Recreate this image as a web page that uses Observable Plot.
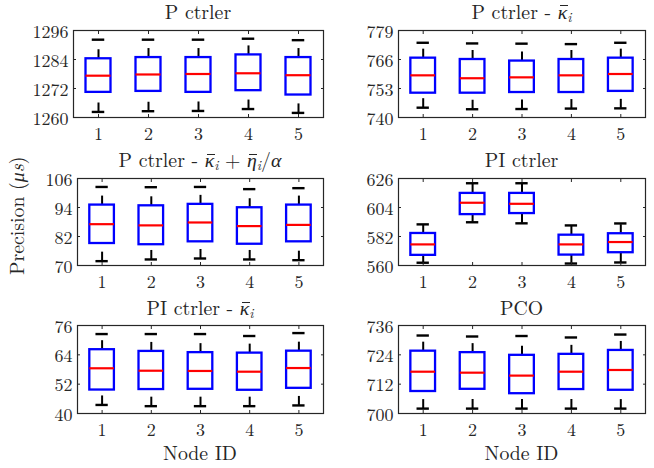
<!DOCTYPE html>
<html>
<head>
<meta charset="utf-8">
<script src="https://cdn.jsdelivr.net/npm/d3@7"></script>
<script src="https://cdn.jsdelivr.net/npm/@observablehq/plot@0.6"></script>
<style>
  body { margin: 0; background: #fff; }
  #fig { position: relative; width: 654px; height: 468px; overflow: hidden; background: #fff;
         font-family: "Latin Modern Roman", "Liberation Serif", serif; color: #262626; }
  #fig svg { position: absolute; overflow: visible; }
  .title, .xlab, .ylab { position: absolute; font-size: 19.8px; line-height: 16px; white-space: nowrap; }
  .gk { font-family: "Latin Modern Roman", "Liberation Serif", serif; font-style: italic; }
  .sub { font-size: 0.7em; vertical-align: -0.25em; line-height: 0; font-style: italic; }
  .bar { position: relative; display: inline-block; font-style: italic; font-family: "Liberation Serif", serif; }
  .ov { position: absolute; left: 22%; right: -6%; height: 0; border-top: 1.3px solid #262626; }
</style>
</head>
<body>
<div id="fig"></div>
<script>
// ---------- data ----------
const nodes = [1, 2, 3, 4, 5];

const titles = [
  "P ctrler",
  "P ctrler - <span class='bar'>κ</span><span class='sub'>i</span>",
  "P ctrler - <span class='bar'>κ</span><span class='sub'>i</span> + <span class='bar'>η</span><span class='sub'>i</span>/<i class='gk'>α</i>",
  "PI ctrler",
  "PI ctrler - <span class='bar'>κ</span><span class='sub'>i</span>",
  "PCO"
];

const yDomains = [[1260, 1296], [740, 779], [70, 106], [560, 626], [40, 76], [700, 736]];
const yTicks = [
  [1260, 1272, 1284, 1296],
  [740, 753, 766, 779],
  [70, 82, 94, 106],
  [560, 582, 604, 626],
  [40, 52, 64, 76],
  [700, 712, 724, 736]
];

// per panel, per node
const lowerWhisker = [
  [1262.3, 1262.6, 1262.7, 1263.5, 1261.9],
  [744.4, 743.7, 743.8, 744.0, 744.1],
  [71.8, 72.5, 72.9, 72.5, 72.2],
  [562.1, 592.8, 592.0, 561.5, 562.3],
  [43.5, 43.0, 43.0, 43.0, 43.3],
  [702.0, 702.0, 702.0, 702.0, 702.0]
];
const quartile1 = [
  [1270.4, 1270.8, 1270.4, 1271.1, 1269.3],
  [750.9, 750.9, 751.2, 751.2, 751.7],
  [79.1, 78.6, 79.8, 78.8, 79.8],
  [567.7, 598.6, 599.4, 567.9, 569.7],
  [49.6, 49.8, 49.9, 49.5, 50.3],
  [709.0, 709.9, 708.1, 709.8, 709.5]
];
const median = [
  [1277.3, 1277.8, 1278.0, 1278.3, 1277.5],
  [758.9, 757.6, 758.0, 758.9, 759.5],
  [87.1, 86.6, 87.8, 86.3, 86.8],
  [576.0, 607.6, 606.8, 576.0, 577.8],
  [58.5, 57.5, 57.4, 57.1, 58.6],
  [717.1, 716.7, 715.5, 717.1, 717.8]
];
const quartile3 = [
  [1284.3, 1284.8, 1284.8, 1285.9, 1284.8],
  [766.6, 766.0, 765.3, 766.0, 766.6],
  [95.0, 94.7, 95.3, 93.9, 95.0],
  [584.3, 614.7, 614.7, 583.0, 584.1],
  [66.1, 65.4, 64.9, 64.7, 65.5],
  [725.5, 724.9, 723.8, 724.2, 725.8]
];
const upperWhisker = [
  [1292.2, 1292.2, 1292.2, 1292.6, 1292.0],
  [773.5, 773.2, 773.1, 772.9, 773.5],
  [102.5, 102.4, 102.5, 101.6, 102.0],
  [591.2, 622.4, 622.4, 590.4, 591.9],
  [72.5, 72.5, 72.5, 71.7, 72.9],
  [731.9, 731.5, 731.7, 731.1, 732.3]
];

const xLabel = "Node ID";
const yLabelHTML = "Precision (<i>μs</i>)";

// ---------- layout (page pixels of each plot frame) ----------
const frames = [
  {x0: 73, x1: 323, y0: 30, y1: 117, tb: 18.5},
  {x0: 398, x1: 645, y0: 30, y1: 117, tb: 18.5},
  {x0: 77, x1: 323, y0: 178, y1: 265, tb: 166.7},
  {x0: 398, x1: 645, y0: 178, y1: 265, tb: 166.7},
  {x0: 77, x1: 323, y0: 325, y1: 413, tb: 315},
  {x0: 398, x1: 645, y0: 325, y1: 413, tb: 315}
];

const fig = document.getElementById("fig");
const mL = 60, mR = 8, mT = 6, mB = 34;
const ink = "#262626";
const fontStack = "'Latin Modern Roman', 'Liberation Serif', serif";

function baselineOffset(el) {
  const m = document.createElement("span");
  m.style.cssText = "display:inline-block;width:0;height:0;vertical-align:baseline";
  el.appendChild(m);
  const off = m.getBoundingClientRect().top - el.getBoundingClientRect().top;
  el.removeChild(m);
  return off;
}
function placeText(cls, html, cx, baseline) {
  const d = document.createElement("div");
  d.className = cls;
  d.innerHTML = html;
  fig.appendChild(d);
  const off = baselineOffset(d);
  const w = d.getBoundingClientRect().width;
  d.style.left = (cx - w / 2) + "px";
  d.style.top = (baseline - off) + "px";
  d.querySelectorAll(".bar").forEach(b => {
    const bo = baselineOffset(b);
    const fs = parseFloat(getComputedStyle(b).fontSize);
    const ov = document.createElement("span");
    ov.className = "ov";
    ov.style.top = (bo - 0.66 * fs) + "px";
    b.appendChild(ov);
  });
  return d;
}

frames.forEach((F, i) => {
  const data = nodes.map((n, j) => ({
    node: n,
    lo: lowerWhisker[i][j], q1: quartile1[i][j], med: median[i][j],
    q3: quartile3[i][j], hi: upperWhisker[i][j]
  }));
  const w = F.x1 - F.x0, h = F.y1 - F.y0;
  const capInset = (w / 10) / 4;
  const chart = Plot.plot({
    width: w + mL + mR,
    height: h + mT + mB,
    marginLeft: mL, marginRight: mR, marginTop: mT, marginBottom: mB,
    style: {fontFamily: fontStack, fontSize: "18px", color: ink, background: "transparent", overflow: "visible"},
    x: {type: "band", domain: nodes, paddingInner: 0.5, paddingOuter: 0.25, round: false},
    y: {domain: yDomains[i]},
    marks: [
      Plot.ruleX(data, {x: "node", y1: "q3", y2: "hi", stroke: "black", strokeWidth: 2, strokeDasharray: "9,10"}),
      Plot.ruleX(data, {x: "node", y1: "lo", y2: "q1", stroke: "black", strokeWidth: 2, strokeDasharray: "9,10"}),
      Plot.tickY(data, {x: "node", y: "hi", stroke: "black", strokeWidth: 2.4, insetLeft: capInset, insetRight: capInset}),
      Plot.tickY(data, {x: "node", y: "lo", stroke: "black", strokeWidth: 2.4, insetLeft: capInset, insetRight: capInset}),
      Plot.barY(data, {x: "node", y1: "q1", y2: "q3", fill: "none", stroke: "#0000ff", strokeWidth: 2.3}),
      Plot.tickY(data, {x: "node", y: "med", stroke: "#ff0000", strokeWidth: 2.2}),
      Plot.axisX({anchor: "bottom", tickSize: -3, tickPadding: 13, label: null, stroke: ink}),
      Plot.axisX({anchor: "top", tickSize: -3, tickFormat: () => "", label: null, stroke: ink}),
      Plot.axisY(yTicks[i], {anchor: "left", tickSize: -3, tickFormat: () => "", label: null, stroke: ink}),
      Plot.axisY(yTicks[i], {anchor: "left", tickSize: 0, tickPadding: 5, dy: 1.5, tickFormat: d3.format("d"), label: null}),
      Plot.axisY(yTicks[i], {anchor: "right", tickSize: -3, tickFormat: () => "", label: null, stroke: ink}),
      Plot.frame({stroke: ink, strokeWidth: 1.2})
    ]
  });
  chart.style.left = (F.x0 - mL) + "px";
  chart.style.top = (F.y0 - mT) + "px";
  fig.appendChild(chart);

  placeText("title", titles[i], (F.x0 + F.x1) / 2, F.tb);
  if (i >= 4) placeText("xlab", xLabel, (F.x0 + F.x1) / 2, 459.5);
});

// rotated y label: baseline at x = 24, centred at y = 216
{
  const d = document.createElement("div");
  d.className = "ylab";
  d.innerHTML = yLabelHTML;
  fig.appendChild(d);
  const off = baselineOffset(d);
  const W = d.getBoundingClientRect().width;
  d.style.transformOrigin = "0 0";
  d.style.left = (24 - off) + "px";
  d.style.top = (216 + W / 2) + "px";
  d.style.transform = "rotate(-90deg)";
}
</script>
</body>
</html>
